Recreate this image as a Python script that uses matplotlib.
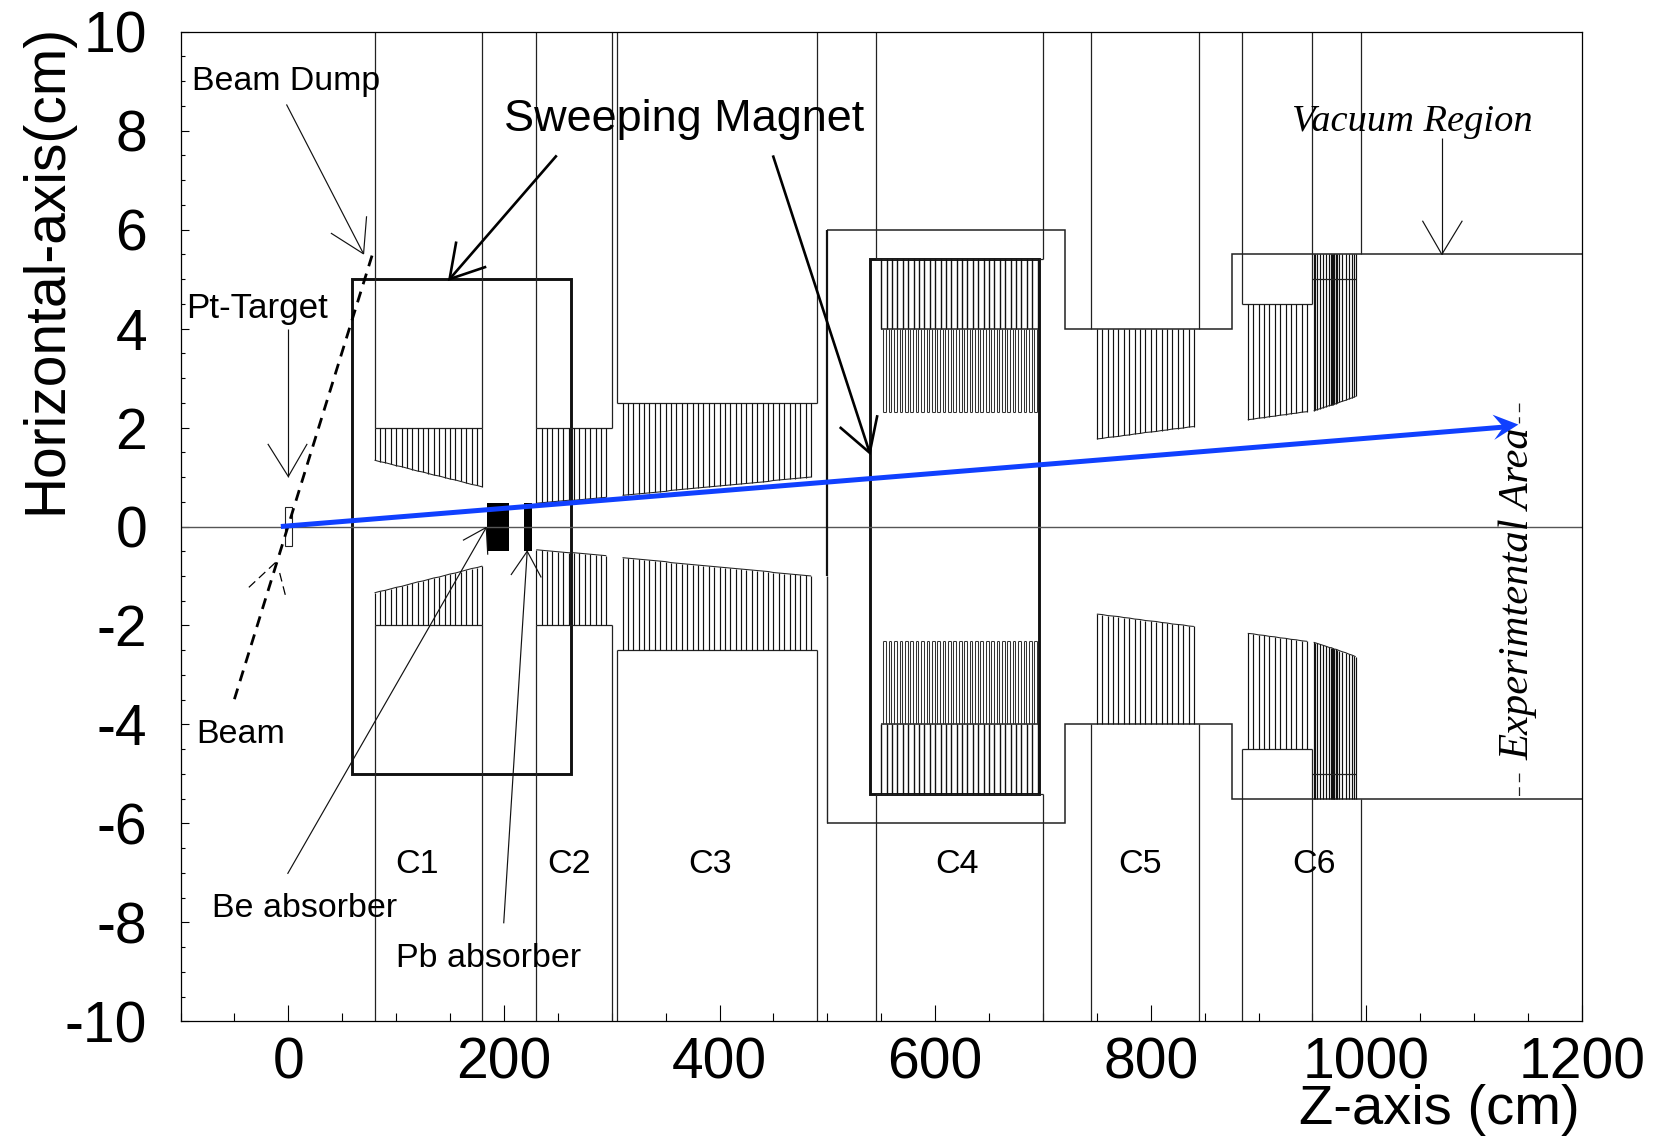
import matplotlib
matplotlib.use("Agg")
import matplotlib.pyplot as plt
from matplotlib.patches import Polygon, Rectangle
from matplotlib.ticker import MultipleLocator

plt.rcParams['font.family'] = ['Liberation Sans', 'DejaVu Sans']
plt.rcParams['axes.unicode_minus'] = False

W, H = 1654, 1137
DARK = '#222222'
BLUE = '#1040ff'

# ---- tick labels ----
x_ticks = [0, 200, 400, 600, 800, 1000, 1200]
y_ticks = [-10, -8, -6, -4, -2, 0, 2, 4, 6, 8, 10]

# ---- tapered chamber wires: z position and inner radius ----
c1_z = [80, 85, 90, 95, 100, 105, 110, 115, 120, 125, 130, 135, 140, 145, 150, 155, 160, 165, 170, 175, 180]
c1_r = [1.34, 1.31, 1.29, 1.26, 1.23, 1.21, 1.18, 1.15, 1.12, 1.10, 1.07, 1.04, 1.02, 0.99, 0.96, 0.94, 0.91, 0.88, 0.85, 0.83, 0.80]
c2_z = [230, 235, 240, 245, 250, 255, 260, 265, 270, 275, 280, 285, 290, 295]
c2_r = [0.47, 0.48, 0.49, 0.50, 0.51, 0.52, 0.53, 0.53, 0.54, 0.55, 0.56, 0.57, 0.58, 0.59]
c3_z = [310, 315, 320, 325, 330, 335, 340, 345, 350, 355, 360, 365, 370, 375, 380, 385, 390, 395,
        400, 405, 410, 415, 420, 425, 430, 435, 440, 445, 450, 455, 460, 465, 470, 475, 480, 485]
c3_r = [0.63, 0.64, 0.65, 0.66, 0.67, 0.68, 0.69, 0.70, 0.71, 0.73, 0.74, 0.75, 0.76, 0.77, 0.78, 0.79, 0.80, 0.81,
        0.82, 0.83, 0.84, 0.85, 0.86, 0.87, 0.88, 0.89, 0.90, 0.91, 0.93, 0.94, 0.95, 0.96, 0.97, 0.98, 0.99, 1.00]
c5_z = [750, 755, 760, 765, 770, 775, 780, 785, 790, 795, 800, 805, 810, 815, 820, 825, 830, 835, 840]
c5_r = [1.77, 1.78, 1.80, 1.81, 1.82, 1.84, 1.85, 1.87, 1.88, 1.90, 1.91, 1.92, 1.94, 1.95, 1.97, 1.98, 1.99, 2.01, 2.02]
c6a_z = [890, 895, 900, 905, 910, 915, 920, 925, 930, 935, 940, 945]
c6a_r = [2.16, 2.17, 2.19, 2.20, 2.22, 2.23, 2.25, 2.26, 2.28, 2.29, 2.31, 2.32]
c6b_z = [951.1, 952.6, 954, 956.8, 959.7, 962.5, 965, 966.8, 967.7, 968.6, 969.5, 970.4, 971.6, 972.9, 975, 977.5, 980.7, 983.9, 986.8, 988.9, 990]
c6b_r = [2.34, 2.35, 2.36, 2.38, 2.40, 2.42, 2.44, 2.45, 2.45, 2.46, 2.47, 2.48, 2.48, 2.49, 2.51, 2.53, 2.55, 2.58, 2.60, 2.62, 2.63]

# ---- C4 straight wires ----
c4_coarse_z = [550, 555, 560, 565, 570, 575, 580, 585, 590, 595, 600, 605, 610, 615, 620,
               625, 630, 635, 640, 645, 650, 655, 660, 665, 670, 675, 680, 685, 690, 695]
c4_fine_left = [552, 557, 562, 567, 572, 577, 582, 587, 592, 597, 602, 607, 612, 617, 622,
                627, 632, 637, 642, 647, 652, 657, 662, 667, 672, 677, 682, 687, 692]
c4_fine_right = [554.5, 559.5, 564.5, 569.5, 574.5, 579.5, 584.5, 589.5, 594.5, 599.5, 604.5, 609.5, 614.5, 619.5, 624.5,
                 629.5, 634.5, 639.5, 644.5, 649.5, 654.5, 659.5, 664.5, 669.5, 674.5, 679.5, 684.5, 689.5, 694.5]

fig = plt.figure(figsize=(W / 100, H / 100), dpi=100)
ax = fig.add_axes([180.5 / W, 1 - 1021.3 / H, (1582 - 180.5) / W, (1021.3 - 31.7) / H])
ax.set_xlim(-100, 1200)
ax.set_ylim(-10, 10)

ax.set_xticks(x_ticks)
ax.set_yticks(y_ticks)
ax.xaxis.set_minor_locator(MultipleLocator(50))
ax.yaxis.set_minor_locator(MultipleLocator(0.5))
ax.tick_params(axis='x', which='major', direction='in', length=11.5, width=0.8, labelsize=41, pad=11)
ax.tick_params(axis='x', which='minor', direction='in', length=5.8, width=0.8)
ax.tick_params(axis='y', which='major', direction='in', length=5.8, width=0.8, labelsize=41, pad=24)
ax.tick_params(axis='y', which='minor', direction='in', length=3, width=0.8)
for s in ax.spines.values():
    s.set_linewidth(0.9)

ax.set_xlabel('Z-axis (cm)', fontsize=40.4, ha='right', va='baseline')
ax.xaxis.set_label_coords(1579.5 / W, 1 - 1124.5 / H, transform=fig.transFigure)
ax.set_ylabel('Horizontal-axis(cm)', fontsize=41, ha='left', va='baseline', rotation=90, rotation_mode='anchor')
ax.yaxis.set_label_coords(61 / W, 1 - 514 / H, transform=fig.transFigure)


def thin(xs, ys, lw=0.9, color=DARK, **kw):
    ax.plot(xs, ys, color=color, lw=lw, solid_capstyle='butt', solid_joinstyle='miter', **kw)


# beam axis
thin([-100, 1200], [0, 0], lw=1.0, color='#555555')

# chamber walls, upper and lower
for sgn in (1, -1):
    for z, r in [(80, 2), (180, 2), (230, 2), (300, 2), (305, 2.5), (490, 2.5), (545, 5.4), (700, 5.4),
                 (745, 4), (845, 4), (885, 4.5), (950, 4.5), (995, 5.5)]:
        thin([z, z], [sgn * r, sgn * 10])
    thin([80, 180], [sgn * 2, sgn * 2])
    thin([230, 300], [sgn * 2, sgn * 2])
    thin([305, 490], [sgn * 2.5, sgn * 2.5])
    thin([545, 700], [sgn * 5.4, sgn * 5.4])
    thin([885, 950], [sgn * 4.5, sgn * 4.5])
    thin([500, 720, 720, 875, 875, 1200],
         [sgn * 6, sgn * 6, sgn * 4, sgn * 4, sgn * 5.5, sgn * 5.5], lw=1.1)

    # tapered wire groups: wall radius, z, inner radius
    for wall, zs, rs in [(2, c1_z, c1_r), (2, c2_z, c2_r), (2.5, c3_z, c3_r), (4, c5_z, c5_r),
                         (4.5, c6a_z, c6a_r), (5.5, c6b_z, c6b_r)]:
        ax.vlines(zs, [sgn * r for r in rs], [sgn * wall] * len(zs), color='#111111', lw=0.85)
        thin(zs, [sgn * r for r in rs], lw=0.75)
    thin([950, 990], [sgn * 5, sgn * 5], lw=0.9)

    # C4 wires
    ax.vlines(c4_coarse_z, sgn * 4, sgn * 5.4, color='#111111', lw=1.0)
    thin([550, 695], [sgn * 4, sgn * 4], lw=1.1)
    ax.vlines(c4_fine_left, sgn * 2.31, sgn * 4, color='#333333', lw=0.75)
    ax.vlines(c4_fine_right, sgn * 2.31, sgn * 4, color='#333333', lw=0.75)
    ax.hlines([sgn * 2.31] * len(c4_fine_left), c4_fine_left, c4_fine_right, color='#333333', lw=0.75)

# left wall of the second magnet region
thin([500, 500], [6, -1], lw=1.6, color='#111111')
thin([500, 500], [-1, -6], lw=1.0)

# magnet yokes
ax.add_patch(Rectangle((59, -5), 203.5, 10, fill=False, ec='#111111', lw=2.1, joinstyle='miter'))
ax.add_patch(Rectangle((540, -5.4), 156, 10.8, fill=False, ec='#111111', lw=2.1, joinstyle='miter'))

# absorbers and target
ax.add_patch(Rectangle((184, -0.49), 21, 0.97, fc='black', ec='black', lw=0))
ax.add_patch(Rectangle((219, -0.49), 7, 0.97, fc='black', ec='black', lw=0))
ax.add_patch(Rectangle((-3, -0.4), 6, 0.8, fill=False, ec=DARK, lw=0.8))

# incoming beam
ax.plot([-50, 79], [-3.49, 5.57], color='black', lw=2.0, dashes=(4, 2.8))
ax.plot([-36.6, -11], [-1.23, -0.71], color='black', lw=0.9, dashes=(7, 4))
ax.plot([-8, -2], [-0.94, -1.45], color='black', lw=0.9, dashes=(7, 4))

# thin annotation arrows
for shaft, b1, b2 in [
    (((-1.7, 8.53), (69.8, 5.51)), (39.5, 5.93), (72.6, 6.27)),
    (((0, 4.0), (0, 1.01)), (-19, 1.67), (17.5, 1.67)),
    (((1070, 7.85), (1070, 5.5)), (1052, 6.18), (1089, 6.18)),
    (((-0.7, -7.02), (183.6, -0.02)), (162, -0.28), (185, -0.57)),
    (((199.8, -8.02), (221.6, -0.5)), (206.5, -0.98), (234.6, -1.03)),
]:
    (a, t) = shaft
    thin([a[0], t[0]], [a[1], t[1]], lw=0.85, color='#111111')
    thin([b1[0], t[0], b2[0]], [b1[1], t[1], b2[1]], lw=0.85, color='#111111')

# bold "Sweeping Magnet" arrows
for shaft, b1, b2 in [
    (((249, 7.5), (149.6, 5.0)), (155.8, 5.76), (183.6, 5.25)),
    (((449.5, 7.5), (539.3, 1.49)), (511.5, 2.01), (546.4, 2.25)),
]:
    (a, t) = shaft
    thin([a[0], t[0]], [a[1], t[1]], lw=1.9, color='black')
    thin([b1[0], t[0], b2[0]], [b1[1], t[1], b2[1]], lw=1.9, color='black')

# experimental-area marker
ax.plot([1142, 1142], [2.5, 2.1], color=DARK, lw=0.9, dashes=(7, 4))
ax.plot([1142, 1142], [-4.98, -5.47], color=DARK, lw=0.9, dashes=(7, 4))

# blue trajectory
ax.plot([-6.9, 1128], [0, 2.01], color=BLUE, lw=3.6, solid_capstyle='butt', zorder=5)
ax.add_patch(Polygon([(1141, 2.06), (1117, 2.26), (1127, 2.01), (1118.6, 1.75)], closed=True, fc=BLUE, ec=BLUE, lw=0, zorder=5))

# labels
label_fs = 24.5
ax.text(-89.5, 8.82, 'Beam Dump', fontsize=24.4, va='baseline', ha='left')
ax.text(-94.4, 4.21, 'Pt-Target', fontsize=25.2, va='baseline', ha='left')
ax.text(-85.5, -4.37, 'Beam', fontsize=label_fs, va='baseline', ha='left')
ax.text(-71, -7.9, 'Be absorber', fontsize=label_fs, va='baseline', ha='left')
ax.text(99.6, -8.9, 'Pb absorber', fontsize=label_fs, va='baseline', ha='left')
for name, zc in [('C1', 119), ('C2', 260), ('C3', 391), ('C4', 620), ('C5', 790.5), ('C6', 951)]:
    ax.text(zc, -7.01, name, fontsize=label_fs, va='baseline', ha='center')
ax.text(200.5, 8.0, 'Sweeping Magnet', fontsize=32.4, va='baseline', ha='left')
ax.text(931, 8.0, 'Vacuum Region', fontsize=27.7, va='baseline', ha='left',
        family='Liberation Serif', style='italic')
ax.text(1150.5, -4.72, 'Experimtental Area', fontsize=30.7, va='baseline', ha='left', rotation=90,
        rotation_mode='anchor', family='Liberation Serif', style='italic')

fig.savefig('out.png', dpi=100)
